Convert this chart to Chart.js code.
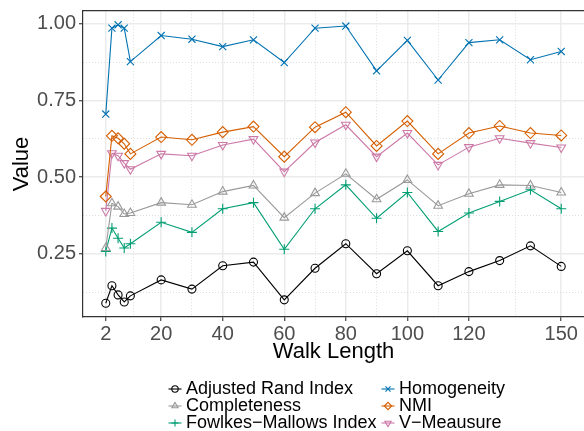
<!DOCTYPE html>
<html>
<head>
<meta charset="utf-8">
<script src="https://cdn.jsdelivr.net/npm/chart.js@4.4.1/dist/chart.umd.min.js"></script>
<style>
  html, body { margin: 0; padding: 0; background: #fff; }
  canvas { display: block; }
</style>
</head>
<body>
<canvas id="grafico" width="584" height="431"></canvas>
<script>
const walkLengths = [2, 4, 6, 8, 10, 20, 30, 40, 50, 60, 70, 80, 90, 100, 110, 120, 130, 140, 150];

const ari          = [0.089, 0.146, 0.116, 0.093, 0.113, 0.165, 0.135, 0.211, 0.223, 0.100, 0.203, 0.283, 0.185, 0.260, 0.146, 0.192, 0.228, 0.276, 0.209];
const completeness = [0.269, 0.415, 0.404, 0.380, 0.383, 0.417, 0.410, 0.453, 0.473, 0.368, 0.448, 0.511, 0.428, 0.491, 0.407, 0.446, 0.475, 0.473, 0.450];
const fmi          = [0.258, 0.334, 0.301, 0.269, 0.283, 0.353, 0.320, 0.397, 0.417, 0.265, 0.397, 0.475, 0.366, 0.450, 0.323, 0.383, 0.421, 0.459, 0.397];
const homogeneity  = [0.706, 0.986, 0.997, 0.986, 0.877, 0.962, 0.950, 0.926, 0.948, 0.874, 0.986, 0.993, 0.847, 0.946, 0.817, 0.939, 0.948, 0.883, 0.910];
const nmi          = [0.437, 0.635, 0.627, 0.609, 0.576, 0.631, 0.622, 0.647, 0.665, 0.567, 0.663, 0.712, 0.602, 0.683, 0.576, 0.644, 0.667, 0.644, 0.636];
const vMeasure     = [0.390, 0.578, 0.570, 0.546, 0.526, 0.576, 0.570, 0.605, 0.624, 0.518, 0.613, 0.671, 0.567, 0.644, 0.540, 0.598, 0.627, 0.611, 0.597];

const xBreaks = [2, 20, 40, 60, 80, 100, 120, 150];
const xMinorBreaks = [11, 30, 50, 70, 90, 110, 135];
const yBreaks = [0.25, 0.50, 0.75, 1.00];
const yMinorBreaks = [0.125, 0.375, 0.625, 0.875];

const FUENTE = '"Liberation Sans", Arial, Helvetica, sans-serif';

const series = [
    { label: 'Adjusted Rand Index',     data: ari,          color: '#000000', style: 'circle',   radius: 4,   rot: 0 },
    { label: 'Completeness',            data: completeness, color: '#999999', style: 'triangle', radius: 5,   rot: 0 },
    { label: 'Fowlkes\u2212Mallows Index', data: fmi,       color: '#009E73', style: 'cross',    radius: 5,   rot: 0 },
    { label: 'Homogeneity',             data: homogeneity,  color: '#0072B2', style: 'crossRot', radius: 5,   rot: 0 },
    { label: 'NMI',                     data: nmi,          color: '#D55E00', style: 'rectRot',  radius: 5.5, rot: 0 },
    { label: 'V\u2212Meausure',         data: vMeasure,     color: '#CC79A7', style: 'triangle', radius: 5,   rot: 180 }
];

const datasets = series.map(s => ({
    label: s.label,
    data: walkLengths.map((x, i) => ({ x, y: s.data[i] })),
    borderColor: s.color,
    backgroundColor: 'rgba(0,0,0,0)',
    borderWidth: 1.1,
    pointStyle: s.style,
    pointRadius: s.radius,
    pointRotation: s.rot,
    pointBorderColor: s.color,
    pointBackgroundColor: 'rgba(0,0,0,0)',
    pointBorderWidth: 1.1,
    tension: 0,
    fill: false
}));

// leyenda en dos columnas como la de ggplot
const leyendaPlugin = {
    id: 'leyenda',
    afterDraw(chart) {
        const ctx = chart.ctx;
        const colX = [175, 388];
        const filaY = [389, 406, 423];
        ctx.save();
        chart.data.datasets.forEach((ds, i) => {
            const cx = colX[Math.floor(i / 3)];
            const cy = filaY[i % 3];
            ctx.strokeStyle = ds.borderColor;
            ctx.lineWidth = 1.1;
            ctx.beginPath();
            ctx.moveTo(cx - 6.5, cy);
            ctx.lineTo(cx + 6.5, cy);
            ctx.stroke();
            ctx.fillStyle = 'rgba(0,0,0,0)';
            Chart.helpers.drawPoint(ctx, {
                pointStyle: ds.pointStyle,
                rotation: ds.pointRotation,
                radius: Math.min(ds.pointRadius, 4.5) * 0.8,
                borderWidth: 1.1
            }, cx, cy);
            ctx.fillStyle = '#000';
            ctx.font = '18px ' + FUENTE;
            ctx.textBaseline = 'middle';
            ctx.textAlign = 'left';
            ctx.fillText(ds.label, cx + 11, cy);
        });
        ctx.restore();
    }
};

const gridMayor = { color: '#ebebeb', lineWidth: 1.5, tickColor: '#333333', tickLength: 4, tickWidth: 1.1 };
const gridMenor = { color: '#dedede', lineWidth: 1, drawTicks: false };

new Chart(document.getElementById('grafico'), {
    type: 'line',
    data: { datasets },
    plugins: [leyendaPlugin],
    options: {
        responsive: false,
        animation: false,
        devicePixelRatio: 1,
        layout: { autoPadding: false, padding: { top: 11, right: 0, bottom: 64, left: 0 } },
        plugins: { legend: { display: false }, tooltip: { enabled: false } },
        scales: {
            x: {
                type: 'linear',
                position: 'bottom',
                min: -5.4,
                max: 157.4,
                afterBuildTicks: s => { s.ticks = xBreaks.map(v => ({ value: v })); },
                afterFit: s => { s.height = 50; s.paddingLeft = 0; s.paddingRight = 0; },
                ticks: { autoSkip: false, maxRotation: 0, padding: 1, color: '#4d4d4d', font: { family: FUENTE, size: 20 } },
                grid: gridMayor,
                border: { color: '#333333', width: 1.2 },
                title: { display: true, text: 'Walk Length', color: '#000', padding: { top: 0, bottom: 2 }, font: { family: FUENTE, size: 22 } }
            },
            xMenor: {
                type: 'linear',
                position: 'top',
                min: -5.4,
                max: 157.4,
                afterBuildTicks: s => { s.ticks = xMinorBreaks.map(v => ({ value: v })); },
                afterFit: s => { s.height = 0; s.paddingLeft = 0; s.paddingRight = 0; },
                ticks: { display: false },
                grid: gridMenor,
                border: { display: true, color: '#333333', width: 1.2, dash: [1, 2] }
            },
            y: {
                type: 'linear',
                position: 'left',
                min: 0.044,
                max: 1.042,
                afterBuildTicks: s => { s.ticks = yBreaks.map(v => ({ value: v })); },
                afterFit: s => { s.width = 83; s.paddingTop = 0; s.paddingBottom = 0; },
                ticks: { padding: 3, color: '#4d4d4d', font: { family: FUENTE, size: 20 }, callback: v => v.toFixed(2) },
                grid: gridMayor,
                border: { color: '#333333', width: 1.2 },
                title: { display: true, text: 'Value', color: '#000', padding: { top: 9, bottom: 0 }, font: { family: FUENTE, size: 22 } }
            },
            yMenor: {
                type: 'linear',
                position: 'left',
                min: 0.044,
                max: 1.042,
                afterBuildTicks: s => { s.ticks = yMinorBreaks.map(v => ({ value: v })); },
                afterFit: s => { s.width = 0; s.paddingTop = 0; s.paddingBottom = 0; },
                ticks: { display: false },
                grid: gridMenor,
                border: { display: false, dash: [1, 2] }
            }
        }
    }
});
</script>
</body>
</html>
